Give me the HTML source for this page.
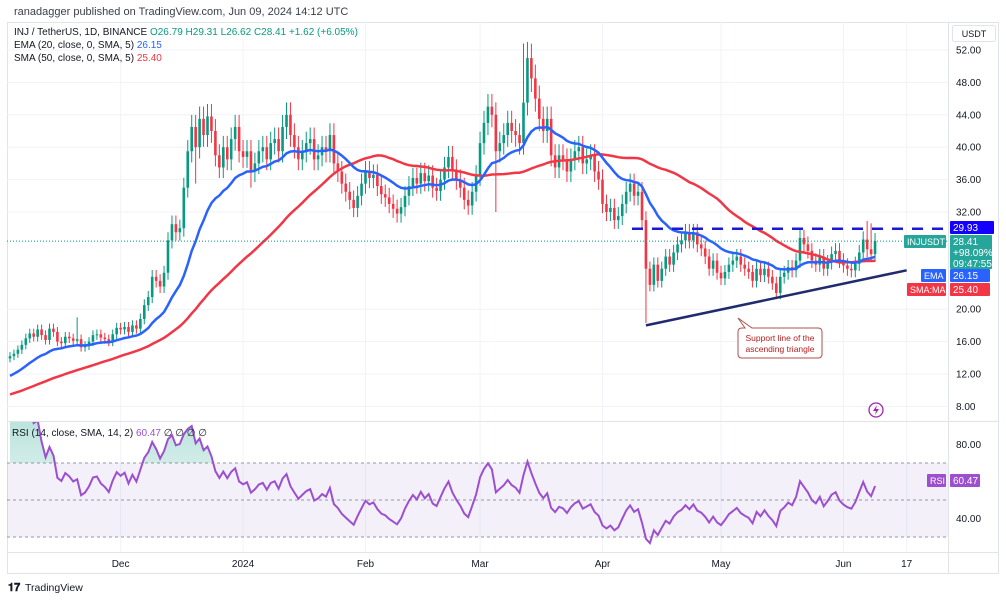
<!DOCTYPE html>
<html><head><meta charset="utf-8">
<style>
body{margin:0;background:#fff;}
svg{display:block;font-family:"Liberation Sans",sans-serif;}
</style></head>
<body>
<svg id="chart" width="1006" height="600" viewBox="0 0 1006 600" xmlns="http://www.w3.org/2000/svg">
<defs>
<linearGradient id="obGrad" x1="0" y1="0" x2="0" y2="1"><stop offset="0" stop-color="#089981" stop-opacity="0.3"/><stop offset="1" stop-color="#089981" stop-opacity="0.02"/></linearGradient>
<clipPath id="obClip"><rect x="7" y="422" width="941" height="41"/></clipPath>
<clipPath id="rsiClip"><rect x="7" y="422" width="941" height="130"/></clipPath>
</defs>
<rect x="0" y="0" width="1006" height="600" fill="#fff"/>
<text x="14" y="15" font-size="11" fill="#3a3e4a">ranadagger published on TradingView.com, Jun 09, 2024 14:12 UTC</text>
<rect x="7.5" y="22.5" width="991" height="551" fill="none" stroke="#e0e3eb"/>
<g id="grid"></g>
<g id="rsiPane"></g>
<g id="main"></g>
<line x1="7" y1="421.5" x2="999" y2="421.5" stroke="#e0e3eb"/>
<line x1="948.5" y1="22" x2="948.5" y2="574" stroke="#e0e3eb"/>
<line x1="7" y1="552.5" x2="999" y2="552.5" stroke="#e0e3eb"/>
<g id="axes"></g>
<g font-size="10">
<text x="14" y="35" fill="#131722">INJ / TetherUS, 1D, BINANCE <tspan fill="#089981"> O26.79  H29.31  L26.62  C28.41  +1.62 (+6.05%)</tspan></text>
<text x="14" y="48" fill="#131722">EMA (20, close, 0, SMA, 5) <tspan fill="#2962ff">26.15</tspan></text>
<text x="14" y="61" fill="#131722">SMA (50, close, 0, SMA, 5) <tspan fill="#f23645">25.40</tspan></text>
<text x="12" y="436" fill="#131722">RSI (14, close, SMA, 14, 2) <tspan fill="#9c4fcf">60.47</tspan><tspan fill="#131722">  ∅  ∅  ∅  ∅</tspan></text>
</g>
<g><rect x="952.5" y="25.5" width="43" height="16" rx="2" fill="#fff" stroke="#e0e3eb"/><text x="974" y="37" font-size="9" text-anchor="middle" fill="#131722">USDT</text></g>
<g>
<path d="M745,328 L738,318 L752,328 L818,328 Q822,328 822,332 L822,354 Q822,358 818,358 L742,358 Q738,358 738,354 L738,332 Q738,328 742,328 Z" fill="#fff" stroke="#b05050" stroke-width="1"/>
<text x="780" y="341" font-size="8.5" text-anchor="middle" fill="#b71c1c">Support line of the</text>
<text x="780" y="352" font-size="8.5" text-anchor="middle" fill="#b71c1c">ascending triangle</text>
</g>
<g><circle cx="876" cy="410" r="7" fill="none" stroke="#9c27b0" stroke-width="1.3"/><path d="M877,405 L873,411 L876,411 L875,415 L879,409 L876,409 Z" fill="#9c27b0"/></g>
<g><text x="8" y="591" font-size="11" font-weight="bold" fill="#131722">𝟏𝟕</text><text x="25" y="591" font-size="10.5" fill="#131722">TradingView</text></g>
</svg>
<script>
const closesNov=[14.2,14.5,15.0,15.6,16.4,17.0,16.6,17.5,16.8,16.2,17.6,17.2,16.0,15.8,16.6,16.4,16.1,16.3,15.3,15.5,16.0,16.8,16.9,16.5,16.3,16.0,16.9,17.7];
const closesDec=[17.5,17.8,17.2,18.0,17.6,18.8,20.5,21.5,24.0,23.5,22.8,24.5,28.5,30.5,29.5,30.0,35.0,39.5,42.5,40.0,43.5,41.5,43.8,42.0,39.0,37.5,40.0,38.5,41.0,42.5,39.5];
const closesJan=[38.8,39.5,37.0,38.0,39.5,40.0,38.5,40.5,41.0,39.5,42.5,44.0,41.5,40.0,38.5,39.5,40.5,41.0,38.5,39.0,40.0,39.5,41.5,38.0,37.0,35.5,34.5,33.5,32.5,34.0,35.5];
const closesFeb=[37.0,36.2,36.6,35.2,34.2,33.8,33.0,32.4,31.8,32.6,34.0,35.2,36.2,35.5,36.8,35.8,36.5,35.0,34.6,36.0,37.5,38.8,37.2,36.0,35.0,33.5,32.8,34.5,36.5];
const closesMar=[40.5,43.0,45.0,44.0,39.5,40.5,41.5,43.0,42.0,41.5,40.5,45.5,51.0,48.5,46.0,43.5,42.0,43.5,39.0,37.5,39.0,38.5,37.0,38.5,39.5,40.0,38.0,38.5,39.0,37.0,36.0];
const closesApr=[33.0,32.0,32.5,31.0,31.5,33.0,34.5,35.5,34.0,34.5,31.0,25.0,23.0,25.5,23.5,25.0,26.5,25.5,27.0,28.0,28.5,29.5,28.5,29.5,28.0,27.5,26.5,25.0,26.0,24.5];
const closesMay=[23.8,24.6,25.5,26.0,26.5,25.5,25.0,24.6,23.5,25.0,24.2,25.0,24.0,23.2,22.0,24.0,24.5,25.2,24.8,26.0,28.8,28.0,27.2,26.0,25.5,26.5,25.0,25.8,26.8,27.2,26.0];
const closesJun=[25.4,25.0,24.8,25.6,27.0,28.6,27.4,26.79,28.41];
const priorCloses=[7.0,7.3,7.6,8.2,8.6,9.0,10.0,10.8,11.8,13.0];
const wickIdx=[161,130,131,123,61,217,218,17,47];
const wickPrice=[18.3,52.8,53.0,32.0,35.0,30.9,30.6,19.0,35.5];
const priceTicks=[52,48,44,40,36,32,20,16,12,8];
const rsiTicks=[80,40];
const monthLabels=["Dec","2024","Feb","Mar","Apr","May","Jun","17"];
const monthIdx=[28,59,90,119,150,180,211,227];
const resistance=29.93;
const supportStart=[161,18.0];
const supportEnd=[227,24.8];

const NS="http://www.w3.org/2000/svg";
const closes=[].concat(closesNov,closesDec,closesJan,closesFeb,closesMar,closesApr,closesMay,closesJun);
const X=i=>10+i*3.95;
const Y=p=>50+(52-p)*8.1;
const RY=v=>463+(70-v)*1.85;
function mk(tag,attrs,parent){const e=document.createElementNS(NS,tag);for(const k in attrs)e.setAttribute(k,attrs[k]);parent.appendChild(e);return e;}
const grid=document.getElementById('grid'),main=document.getElementById('main'),axes=document.getElementById('axes'),rsiPane=document.getElementById('rsiPane');

monthIdx.forEach((m,k)=>{
  const gl=mk('line',{x1:X(m),x2:X(m),y1:22,y2:552,stroke:'#f0f3fa'},grid);
  
  
  const t=mk('text',{x:X(m),y:567,'font-size':10,'text-anchor':'middle',fill:'#131722'},axes);
  t.textContent=monthLabels[k];
  
  
});
priceTicks.forEach(p=>{
  const gl=mk('line',{x1:7,x2:948,y1:Y(p),y2:Y(p),stroke:'#f0f3fa'},grid);
  
  
  const t=mk('text',{x:956,y:Y(p)+3.5,'font-size':10,fill:'#131722'},axes);
  t.textContent=p.toFixed(2);
  
  
});
rsiTicks.forEach(v=>{
  const t=mk('text',{x:956,y:RY(v)+3.5,'font-size':10,fill:'#131722'},axes);
  t.textContent=v.toFixed(2);
  
  
});

const all=[];priorCloses.forEach(p=>{for(let k=0;k<5;k++)all.push(p);});
const off=all.length;closes.forEach(c=>all.push(c));
const ema=[];let e=all[0];const a=2/21;
all.forEach((c,i)=>{e=i===0?c:c*a+e*(1-a);ema.push(e);});
const sma=all.map((c,i)=>{const s=all.slice(Math.max(0,i-49),i+1);return s.reduce((x,y)=>x+y,0)/s.length;});
const rsi=[];let ag=0,al=0;
for(let i=1;i<all.length;i++){const d=all[i]-all[i-1];const g=Math.max(d,0),l=Math.max(-d,0);
  if(i<=14){ag+=g/14;al+=l/14;}else{ag=(ag*13+g)/14;al=(al*13+l)/14;}
  rsi[i]=al===0?100:100-100/(1+ag/al);}

closes.forEach((c,i)=>{
  const o=i===0?c*0.98:closes[i-1];
  let h=Math.max(o,c)*1.035,l=Math.min(o,c)*0.965;
  const w=wickIdx.indexOf(i);
  if(w>=0){if(wickPrice[w]>Math.max(o,c))h=wickPrice[w];else l=wickPrice[w];}
  const col=c>=o?'#089981':'#f23645';
  const g=mk('g',{},main);
  
  
  mk('line',{x1:X(i),x2:X(i),y1:Y(h),y2:Y(l),stroke:col,'stroke-width':1},g);
  const top=Y(Math.max(o,c)),bot=Y(Math.min(o,c));
  mk('rect',{x:X(i)-1.3,y:top,width:2.6,height:Math.max(1,bot-top),fill:col},g);
});
const toPath=(arr,f)=>closes.map((_,i)=>(i?'L':'M')+X(i).toFixed(1)+','+f(arr[i+off]).toFixed(1)).join('');
const sm=mk('path',{d:toPath(sma,Y),fill:'none',stroke:'#f23645','stroke-width':2.5},main);


const em=mk('path',{d:toPath(ema,Y),fill:'none',stroke:'#2962ff','stroke-width':2.5},main);


const cur=mk('line',{x1:7,x2:948,y1:Y(closes[closes.length-1]),y2:Y(closes[closes.length-1]),stroke:'#089981','stroke-dasharray':'1,2','stroke-width':1},main);


const res=mk('line',{x1:632,x2:946,y1:Y(resistance),y2:Y(resistance),stroke:'#1a1ad6','stroke-dasharray':'11,9','stroke-width':2.5},main);


const sup=mk('line',{x1:X(supportStart[0]),x2:X(supportEnd[0]),y1:Y(supportStart[1]),y2:Y(supportEnd[1]),stroke:'#1f2b6e','stroke-width':2.5},main);



const band=mk('rect',{x:7,y:RY(70),width:941,height:RY(30)-RY(70),fill:'rgba(126,87,194,0.09)'},rsiPane);


[70,50,30].forEach(v=>{const l=mk('line',{x1:7,x2:948,y1:RY(v),y2:RY(v),stroke:'#9598a1','stroke-dasharray':'3,3'},rsiPane);
  
  });
const rp=toPath(rsi,RY);
const fillP=mk('path',{d:rp+'L'+X(closes.length-1)+','+RY(70)+'L'+X(0)+','+RY(70)+'Z',fill:'url(#obGrad)','clip-path':'url(#obClip)'},rsiPane);


const rl=mk('path',{d:rp,fill:'none',stroke:'#9c4fcf','stroke-width':2,'clip-path':'url(#rsiClip)'},rsiPane);



function tag(x,y,w,h,bg,lines,name,fs){const g=mk('g',{},axes);
  
  
  mk('rect',{x:x,y:y,width:w,height:h,fill:bg,rx:1},g);
  lines.forEach((s,k)=>{const t=mk('text',{x:x+3,y:y+10+k*11,'font-size':fs||10,fill:'#fff'},g);t.textContent=s;});}
tag(950,221,44,13,'#1400ff',['29.93'],'resistance-price-tag');
tag(904,235,42,13,'#26a69a',['INJUSDT'],'symbol-tag',9);
tag(950,235,42,34,'#26a69a',['28.41','+98.09%','09:47:55'],'last-price-tag');
tag(921,269,25,13,'#2962ff',['EMA'],'ema-name-tag',9);
tag(950,269,40,13,'#2962ff',['26.15'],'ema-price-tag');
tag(907,283,39,13,'#f23645',['SMA:MA'],'sma-name-tag',9);
tag(950,283,40,13,'#f23645',['25.40'],'sma-price-tag');
tag(927,474,19,13,'#9c4fcf',['RSI'],'rsi-name-tag',9);
tag(950,474,30,13,'#9c4fcf',['60.47'],'rsi-value-tag');
</script>
</body></html>
